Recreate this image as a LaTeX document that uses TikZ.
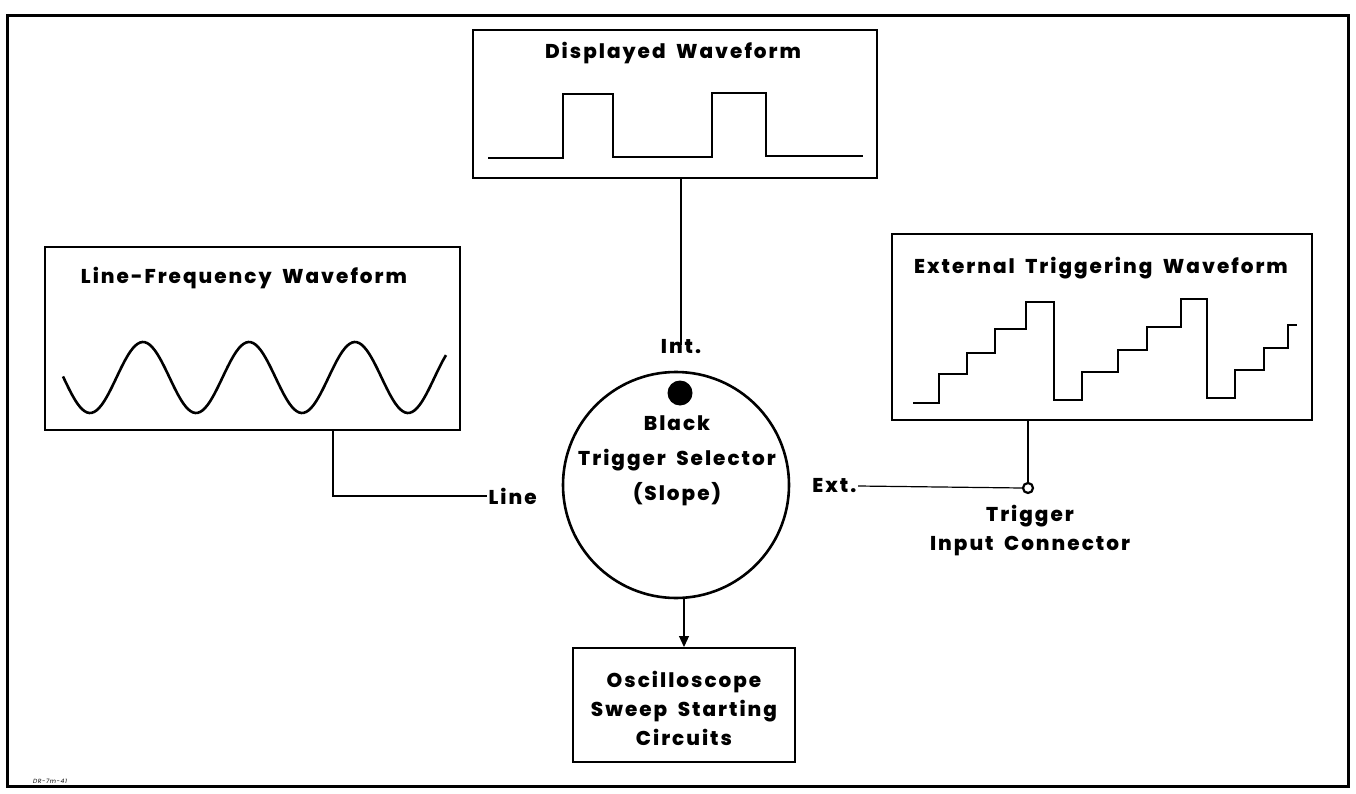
\documentclass[tikz,border=0pt]{standalone}
\usepackage{fontspec}
\setmainfont{Poppins}[BoldFont={Poppins ExtraBold}, LetterSpace=10, WordSpace=1.8]
\usetikzlibrary{arrows.meta}

\newcommand{\labfont}{\bfseries\fontsize{20}{29}\selectfont}

\tikzset{every picture/.style={line width=1.2pt}}
\tikzset{
  lbl/.style={inner sep=0pt, font=\labfont, align=center},
  wavebox/.style={draw, line width=2pt, rectangle, inner sep=0pt},
  trace/.style={line width=2.6pt, line join=miter},
}

\begin{document}
\begin{tikzpicture}[x=1pt,y=-1pt]
	\useasboundingbox (0,0) rectangle (1356,794);

	%Shape: Frame
	\draw [line width=3pt] (7,16) rectangle (1348,786);

	%Shape: Rectangle
	\node [wavebox, minimum width=404, minimum height=148] (disp) at (675,104) {};
	\node [wavebox, minimum width=415, minimum height=183] (linebox) at (252.5,338.5) {};
	\node [wavebox, minimum width=420, minimum height=186] (extbox) at (1102,327) {};
	\node [wavebox, minimum width=222, minimum height=114] (sweep) at (684,705) {};

	%Shape: Circle
	\node [draw, circle, line width=2.6pt, minimum size=226, inner sep=0pt] (sel) at (676,485) {};
	\node [fill, circle, minimum size=25, inner sep=0pt] (dot) at (680,393) {};
	\node [draw, circle, line width=2.2pt, minimum size=10, inner sep=0pt] (jack) at (1028,488) {};

	% Text Node
	\node [lbl] (disptitle) at (673,53) {Displayed Waveform};
	% Text Node
	\node [lbl] (linetitle) at (244,278) {Line-Frequency Waveform};
	% Text Node
	\node [lbl] (exttitle) at (1101,268) {External Triggering Waveform};
	% Text Node
	\node [lbl] (intlab) at (681,347) {Int.};
	% Text Node
	\node [lbl, anchor=west] (linelab) at (488,496) {Line};
	% Text Node
	\node [lbl, anchor=east] (extlab) at (857,486) {Ext.};
	% Text Node
	\node [lbl, font=\bfseries\fontsize{20}{35}\selectfont] (selname) at (677,461) {Black\\Trigger Selector\\(Slope)};
	% Text Node
	\node [lbl, anchor=north] (jacklab) at (1030,505) {Trigger\\Input Connector};
	% Text Node
	\node [lbl] (sweeplab) at (684,708) {Oscilloscope\\Sweep Starting\\Circuits};
	% Text Node
	\node [inner sep=0pt, font=\itshape\fontsize{6}{7}\selectfont] (drawno) at (50,781) {DR-7m-41};

	%Straight Lines
	\draw (disp.south -| intlab.north) -- ([yshift=-6pt]intlab.north);
	%Straight Lines
	\coordinate (linetap) at (333,0);
	\draw (linebox.south -| linetap) |- ([xshift=-1pt]linelab.west);
	%Straight Lines
	\draw ([xshift=1pt]extlab.east) -- (jack.west);
	\draw (extbox.south -| jack) -- (jack.north);
	%Straight Lines
	\draw [-{Triangle[length=11pt,width=10pt]}] (sel.south -| sweep.north) -- (sweep.north);

	%Curve Lines
	\draw [trace] (488,158) -- (563,158) -- (563,94) -- (613,94) -- (613,157) -- (712,157) -- (712,93) -- (766,93) -- (766,156) -- (863,156);
	%Curve Lines
	\draw [trace] plot [domain=63:446, samples=160, smooth] (\x, {377.5+35.5*cos(3.3962*(\x-90))});
	%Curve Lines
	\draw [trace] (913,403) -- (939,403) -- (939,374) -- (967,374) -- (967,353) -- (995,353) -- (995,329) -- (1026,329) -- (1026,302) -- (1054,302) -- (1054,400)
	  -- (1082,400) -- (1082,372) -- (1118,372) -- (1118,350) -- (1147,350) -- (1147,327) -- (1181,327) -- (1181,299) -- (1207,299) -- (1207,398)
	  -- (1235,398) -- (1235,370) -- (1264,370) -- (1264,348) -- (1288,348) -- (1288,325) -- (1297,325);

\end{tikzpicture}
\end{document}
